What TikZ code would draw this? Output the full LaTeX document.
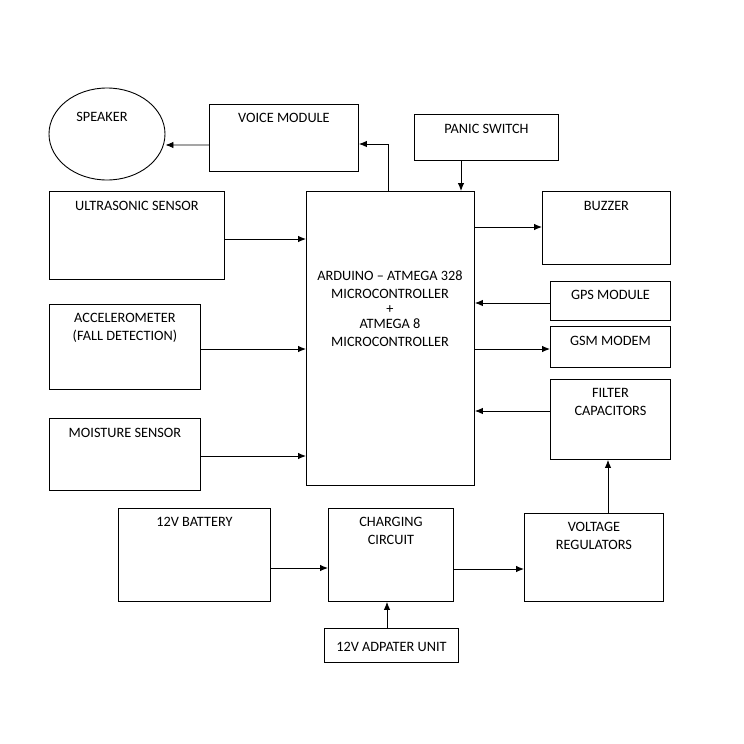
\documentclass[tikz,border=0pt]{standalone}
\usepackage{fontspec}
\setmainfont{Carlito}
\usetikzlibrary{arrows.meta,shapes.geometric}

\tikzset{
  blk/.style={draw, line width=0.9pt, anchor=north west, inner sep=0pt},
  ttl/.style={anchor=north, align=center, inner sep=0pt, font=\fontsize{14.3}{18}\selectfont},
  arr/.style={-{Latex[length=8pt,width=6.5pt]}, line width=0.9pt}
}

\begin{document}
\begin{tikzpicture}[x=1pt,y=-1pt]
\useasboundingbox (0,0) rectangle (744,744);
% top row
\node[draw, ellipse, line width=0.9pt, minimum width=116pt, minimum height=92pt] (spk) at (107,134) {};
\node[ttl] (spkt) at (102,112) {SPEAKER};
\node[blk, minimum width=149pt, minimum height=67pt] (voice) at (209,104) {};
\node[ttl] (voicet) at ([yshift=-9pt]voice.north) {VOICE MODULE};
\node[blk, minimum width=144pt, minimum height=46pt] (panic) at (414,114) {};
\node[ttl] (panict) at ([yshift=-10pt]panic.north) {PANIC SWITCH};
% microcontroller
\node[blk, minimum width=168pt, minimum height=294pt] (mcu) at (306,191) {};
\node[ttl, anchor=center] (mcut) at (390,309) {ARDUINO -- ATMEGA 328\\MICROCONTROLLER\\[-3pt]+\\[-3pt]ATMEGA 8\\MICROCONTROLLER};
% inputs on the left
\node[blk, minimum width=175pt, minimum height=88pt] (us) at (49,191) {};
\node[ttl] (ust) at ([yshift=-10pt]us.north) {ULTRASONIC SENSOR};
\node[blk, minimum width=151pt, minimum height=85pt] (acc) at (49,304) {};
\node[ttl] (acct) at ([yshift=-9pt]acc.north) {ACCELEROMETER\\(FALL DETECTION)};
\node[blk, minimum width=151pt, minimum height=72pt] (moist) at (49,418) {};
\node[ttl] (moistt) at ([yshift=-10pt]moist.north) {MOISTURE SENSOR};
% right column
\node[blk, minimum width=128pt, minimum height=73pt] (buz) at (542,191) {};
\node[ttl] (buzt) at ([yshift=-10pt]buz.north) {BUZZER};
\node[blk, minimum width=120pt, minimum height=39pt] (gps) at (550,281) {};
\node[ttl] (gpst) at ([yshift=-9pt]gps.north) {GPS MODULE};
\node[blk, minimum width=120pt, minimum height=41pt] (gsm) at (550,326) {};
\node[ttl] (gsmt) at ([yshift=-10pt]gsm.north) {GSM MODEM};
\node[blk, minimum width=120pt, minimum height=80pt] (filt) at (550,379) {};
\node[ttl] (filtt) at ([yshift=-9pt]filt.north) {FILTER\\CAPACITORS};
% power
\node[blk, minimum width=152pt, minimum height=93pt] (bat) at (118,508) {};
\node[ttl] (batt) at ([yshift=-9pt]bat.north) {12V BATTERY};
\node[blk, minimum width=125pt, minimum height=93pt] (chg) at (328,508) {};
\node[ttl] (chgt) at ([yshift=-9pt]chg.north) {CHARGING\\CIRCUIT};
\node[blk, minimum width=139pt, minimum height=88pt] (reg) at (524,513) {};
\node[ttl] (regt) at ([yshift=-9pt]reg.north) {VOLTAGE\\REGULATORS};
\node[blk, minimum width=134pt, minimum height=34pt] (adp) at (324,628) {};
\node[ttl] (adpt) at ([yshift=-14pt]adp.north) {12V ADPATER UNIT};
% connectors
\draw[arr] ([yshift=-7pt]voice.west) -- (spk.east |- 0,145);
\draw[arr] (mcu.north -| 388,0) |- (voice.east |- 0,144);
\draw[arr] (panic.south -| 461,0) -- (mcu.north -| 461,0);
\draw[arr] (us.east |- 0,239) -- (mcu.west |- 0,239);
\draw[arr] (acc.east |- 0,349) -- (mcu.west |- 0,349);
\draw[arr] (moist.east |- 0,456) -- (mcu.west |- 0,456);
\draw[arr] (mcu.east |- 0,227) -- (buz.west |- 0,227);
\draw[arr] (gps.west |- 0,303) -- (mcu.east |- 0,303);
\draw[arr] (mcu.east |- 0,349) -- (gsm.west |- 0,349);
\draw[arr] (filt.west |- 0,411) -- (mcu.east |- 0,411);
\draw[arr] (bat.east |- 0,568) -- (chg.west |- 0,568);
\draw[arr] (chg.east |- 0,569) -- (reg.west |- 0,569);
\draw[arr] (reg.north -| 608,0) -- (filt.south -| 608,0);
\draw[arr] (adp.north -| 387,0) -- (chg.south -| 387,0);
\end{tikzpicture}
\end{document}
